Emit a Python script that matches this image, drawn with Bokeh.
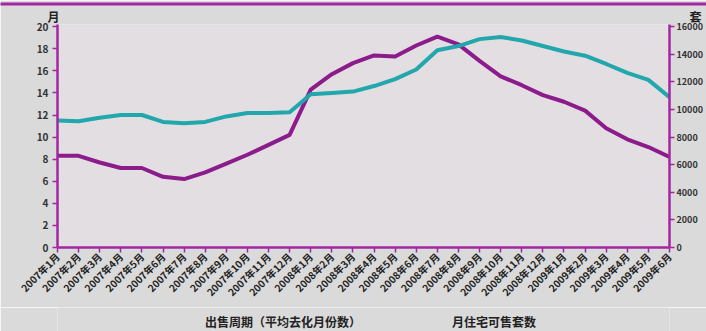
from math import pi

from bokeh.embed import file_html
from bokeh.layouts import column
from bokeh.models import FixedTicker, Legend, LegendItem, LinearAxis, Range1d, Title
from bokeh.plotting import figure
from bokeh.resources import INLINE

# Monthly series, 2007-01 .. 2009-06
months = ([f"2007年{m}月" for m in range(1, 13)]
          + [f"2008年{m}月" for m in range(1, 13)]
          + [f"2009年{m}月" for m in range(1, 7)])

# Sales cycle (average months to sell out) -- left axis
sales_cycle = [8.3, 8.3, 7.7, 7.2, 7.2, 6.4, 6.2, 6.8, 7.6, 8.4, 9.3, 10.2,
               14.3, 15.7, 16.7, 17.4, 17.3, 18.3, 19.1, 18.4, 16.9, 15.5, 14.7, 13.8,
               13.2, 12.4, 10.8, 9.8, 9.1, 8.2]

# Housing units available for sale per month -- right axis
units_for_sale = [9200, 9150, 9400, 9600, 9600, 9100, 9000, 9100, 9500, 9750, 9750, 9800,
                  11100, 11200, 11300, 11700, 12200, 12900, 14300, 14600, 15100, 15250, 15000, 14600,
                  14200, 13900, 13300, 12650, 12150, 10900]

left_ticks = list(range(0, 21, 2))
right_ticks = list(range(0, 16001, 2000))

legend_labels = ["出售周期（平均去化月份数）", "月住宅可售套数"]
left_unit = "月"
right_unit = "套"

PURPLE = "#8c1b8c"
AXIS_PURPLE = "#a326a3"
CYAN = "#22a7ad"
PAGE_BG = "#dadada"
FONT = "Noto Sans CJK SC"
FRAME_LEFT = 57
W, H = 706, 331
LEGEND_H = 24

x = list(range(len(months)))

# ---------------- main chart ----------------
p = figure(width=W, height=H - LEGEND_H, output_backend="svg",
           toolbar_location=None, title_location=None,
           x_range=Range1d(0, len(months) - 1), y_range=Range1d(0, 20.2),
           min_border_left=FRAME_LEFT, min_border_right=14, min_border_top=0,
           min_border_bottom=60)
p.extra_y_ranges = {"right": Range1d(0, 16160)}

p.background_fill_color = "#e3dee1"
p.border_fill_color = PAGE_BG
p.outline_line_color = None
p.xgrid.visible = False
p.ygrid.visible = False

p.line(x, sales_cycle, line_color=PURPLE, line_width=4, line_join="round")
p.line(x, units_for_sale, y_range_name="right", line_color=CYAN, line_width=4,
       line_join="round")


def style_axis(ax, font_size):
    ax.minor_tick_line_color = None
    ax.major_tick_in = 0
    ax.major_tick_out = 5
    ax.axis_line_color = AXIS_PURPLE
    ax.axis_line_width = 2.5
    ax.major_tick_line_color = AXIS_PURPLE
    ax.major_tick_line_width = 1.5
    ax.major_label_text_font = FONT
    ax.major_label_text_font_style = "bold"
    ax.major_label_text_font_size = font_size
    ax.major_label_text_color = "#333333"


# left axis
ya = p.yaxis[0]
ya.ticker = FixedTicker(ticks=left_ticks)
style_axis(ya, "10px")
ya.major_label_standoff = 4

# right axis
ra = LinearAxis(y_range_name="right", ticker=FixedTicker(ticks=right_ticks))
style_axis(ra, "9px")
ra.major_label_standoff = 2
p.add_layout(ra, "right")

# bottom axis with slanted month labels
xa = p.xaxis[0]
xa.ticker = FixedTicker(ticks=x)
xa.major_label_overrides = {i: m for i, m in enumerate(months)}
xa.major_label_orientation = pi / 4
style_axis(xa, "10px")
xa.major_tick_out = 5
xa.major_label_text_color = "#222222"
xa.major_label_standoff = 2

# unit captions over the two value axes (one line, ideographic spaces between)
caption = Title(text=left_unit + "\u3000" * 52 + "\u2002" + right_unit,
                align="left", offset=-10, standoff=0,
                text_font=FONT, text_font_style="bold", text_font_size="12px",
                text_color="#222222")
p.add_layout(caption, "above")

# purple rule along the top edge of the chart
rule = Title(text="\u3000" * 360, align="left", offset=-FRAME_LEFT, standoff=0,
             text_font=FONT, text_font_size="2px", text_color=AXIS_PURPLE,
             background_fill_color=AXIS_PURPLE, background_fill_alpha=1)
p.add_layout(rule, "above")

# ---------------- legend strip under the chart ----------------
leg = figure(width=W, height=LEGEND_H, output_backend="svg", toolbar_location=None,
             title_location=None, x_range=Range1d(0, 1), y_range=Range1d(0, 1),
             x_axis_type=None, y_axis_type=None, min_border=0)
leg.background_fill_color = PAGE_BG
leg.border_fill_color = PAGE_BG
leg.outline_line_color = None
leg.grid.visible = False

k1 = leg.line(x=[], y=[], line_color=PURPLE, line_width=4)
k2 = leg.line(x=[], y=[], line_color=CYAN, line_width=4)

legend = Legend(items=[LegendItem(label=legend_labels[0], renderers=[k1]),
                       LegendItem(label=legend_labels[1], renderers=[k2])],
                orientation="horizontal", location=(103, 1),
                glyph_width=35, glyph_height=10, label_height=12,
                label_standoff=10, spacing=46,
                padding=0, margin=0, background_fill_alpha=0, border_line_alpha=0,
                label_text_font=FONT, label_text_font_style="bold",
                label_text_font_size="12px", label_text_color="#222222")
leg.add_layout(legend, "center")

layout = column(p, leg, spacing=0)
open("out.html", "w").write(file_html(layout, INLINE))
